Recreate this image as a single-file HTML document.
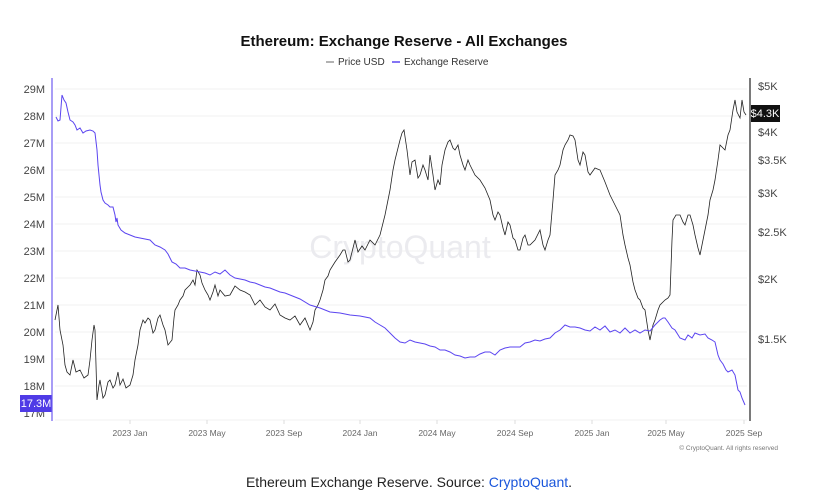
<!DOCTYPE html>
<html><head><meta charset="utf-8"><style>
body{margin:0;background:#fff;width:819px;height:498px;overflow:hidden;font-family:"Liberation Sans",sans-serif}
</style></head><body>
<svg width="819" height="498" xmlns="http://www.w3.org/2000/svg" font-family="Liberation Sans, sans-serif">
<text x="404" y="46" text-anchor="middle" font-size="15" font-weight="bold" fill="#111">Ethereum: Exchange Reserve - All Exchanges</text>
<line x1="326" y1="62" x2="334" y2="62" stroke="#999" stroke-width="1.5"/>
<text x="338" y="65" font-size="10" fill="#333">Price USD</text>
<line x1="392" y1="62" x2="400" y2="62" stroke="#5b45f0" stroke-width="1.5"/>
<text x="404" y="65" font-size="10" fill="#333">Exchange Reserve</text>
<g stroke="#f0f0f0" stroke-width="1">
<line x1="55" y1="89" x2="747" y2="89"/><line x1="55" y1="116" x2="747" y2="116"/><line x1="55" y1="143" x2="747" y2="143"/><line x1="55" y1="170" x2="747" y2="170"/><line x1="55" y1="197" x2="747" y2="197"/><line x1="55" y1="224" x2="747" y2="224"/><line x1="55" y1="251" x2="747" y2="251"/><line x1="55" y1="278" x2="747" y2="278"/><line x1="55" y1="305" x2="747" y2="305"/><line x1="55" y1="332" x2="747" y2="332"/><line x1="55" y1="359" x2="747" y2="359"/><line x1="55" y1="386" x2="747" y2="386"/>
<line x1="55" y1="420" x2="747" y2="420"/>
</g>
<text x="400" y="258" text-anchor="middle" font-size="32" fill="#ebebef">CryptoQuant</text>
<g font-size="11" fill="#444" text-anchor="end">
<text x="45" y="93">29M</text><text x="45" y="120">28M</text><text x="45" y="147">27M</text><text x="45" y="174">26M</text><text x="45" y="201">25M</text><text x="45" y="228">24M</text><text x="45" y="255">23M</text><text x="45" y="282">22M</text><text x="45" y="309">21M</text><text x="45" y="336">20M</text><text x="45" y="363">19M</text><text x="45" y="390">18M</text><text x="45" y="417">17M</text>
</g>
<rect x="20" y="395" width="32" height="17" fill="#4f3be6"/>
<text x="36" y="407" text-anchor="middle" font-size="11" fill="#fff">17.3M</text>
<line x1="52" y1="78" x2="52" y2="421" stroke="#6f5cf0" stroke-width="1.2"/>
<line x1="750" y1="78" x2="750" y2="421" stroke="#222" stroke-width="1.2"/>
<g font-size="11" fill="#444">
<text x="758" y="90">$5K</text><text x="758" y="136">$4K</text><text x="758" y="164">$3.5K</text><text x="758" y="197">$3K</text><text x="758" y="236">$2.5K</text><text x="758" y="283">$2K</text><text x="758" y="343">$1.5K</text>
</g>
<rect x="751" y="105" width="29" height="17" fill="#111"/>
<text x="765" y="117" text-anchor="middle" font-size="11" fill="#fff">$4.3K</text>
<g stroke="#ddd"><line x1="130" y1="420" x2="130" y2="424"/><line x1="207" y1="420" x2="207" y2="424"/><line x1="284" y1="420" x2="284" y2="424"/><line x1="360" y1="420" x2="360" y2="424"/><line x1="437" y1="420" x2="437" y2="424"/><line x1="515" y1="420" x2="515" y2="424"/><line x1="592" y1="420" x2="592" y2="424"/><line x1="666" y1="420" x2="666" y2="424"/><line x1="744" y1="420" x2="744" y2="424"/></g>
<g font-size="8.5" fill="#666" text-anchor="middle">
<text x="130" y="436">2023 Jan</text><text x="207" y="436">2023 May</text><text x="284" y="436">2023 Sep</text><text x="360" y="436">2024 Jan</text><text x="437" y="436">2024 May</text><text x="515" y="436">2024 Sep</text><text x="592" y="436">2025 Jan</text><text x="666" y="436">2025 May</text><text x="744" y="436">2025 Sep</text>
</g>
<text x="778" y="450" text-anchor="end" font-size="6.5" fill="#777">© CryptoQuant. All rights reserved</text>
<polyline fill="none" stroke="#222" stroke-width="0.8" points="55,320 58,305 60,330 63,345 65,365 67,372 70,375 73,360 76,372 80,370 84,378 88,375 90,360 92,340 94,325 95,330 97,400 99,385 100,380 103,398 105,395 108,382 110,380 113,388 115,385 118,372 120,385 123,379 126,388 130,385 133,375 135,360 138,345 140,330 143,320 145,323 148,318 150,320 153,333 155,330 158,318 160,315 163,325 165,330 168,345 172,340 174,318 175,310 178,305 180,300 183,296 185,290 188,287 190,285 193,280 195,285 197,270 200,275 202,283 205,290 208,295 210,300 213,292 215,285 218,296 220,290 225,296 230,295 235,286 240,290 245,292 250,295 255,305 260,300 265,307 270,310 275,304 280,315 285,318 290,320 295,316 300,325 305,318 310,330 313,322 315,310 318,305 320,300 323,290 325,280 328,276 330,270 335,262 340,255 343,250 345,250 348,262 350,260 353,248 355,240 358,252 362,246 365,250 370,240 375,245 380,235 385,215 388,200 390,190 393,170 395,160 398,148 400,140 402,133 404,130 407,150 410,175 412,162 415,160 418,178 420,175 423,165 425,170 428,180 430,155 433,175 435,190 438,180 440,185 442,165 445,150 448,142 450,140 453,148 455,150 458,145 460,155 463,165 465,170 468,160 470,165 475,175 480,180 485,188 490,200 493,215 495,220 498,212 500,215 503,228 505,235 508,222 510,225 513,238 515,240 518,250 520,250 523,238 525,235 528,245 530,245 535,240 540,230 543,245 545,250 548,240 550,235 553,200 555,175 558,170 560,165 563,150 565,145 568,140 570,135 573,136 575,140 578,160 580,165 583,152 585,155 588,172 590,175 595,168 600,170 605,182 610,195 615,205 620,215 623,235 625,245 628,258 630,265 633,282 635,290 638,298 640,300 643,308 645,310 648,330 650,340 653,325 655,320 658,310 660,305 663,302 665,300 668,298 670,295 672,240 673,220 676,215 680,215 683,222 685,225 688,215 690,215 693,225 695,235 698,248 700,255 703,240 705,230 708,215 710,200 713,190 715,180 718,160 720,145 723,148 725,150 728,135 730,130 733,110 735,100 737,112 740,118 742,100 744,112 746,115"/>
<polyline fill="none" stroke="#5b45f0" stroke-width="1" points="56,117 58,121 60,120 62,95 64,100 66,103 68,112 70,120 73,122 75,125 77,130 80,128 83,133 86,131 90,130 93,131 95,133 97,150 98,165 100,185 101,192 103,200 105,203 108,205 110,207 113,207 115,215 116,222 117,218 118,225 121,230 125,233 130,235 135,237 140,238 145,239 150,240 153,243 155,245 160,247 165,250 168,254 172,262 176,264 180,268 185,268 190,270 195,271 200,272 205,273 210,275 215,272 220,274 225,270 230,275 235,278 240,279 245,280 250,282 255,283 260,285 265,287 270,288 275,290 280,292 285,293 290,295 300,299 310,305 320,308 330,312 340,313 350,315 360,316 370,318 375,322 380,325 385,328 390,333 395,338 400,342 405,343 410,340 415,342 420,343 425,344 430,346 435,347 440,350 445,350 450,352 455,355 460,356 465,358 470,357 475,357 480,354 485,352 490,352 495,355 500,350 505,348 510,347 515,347 520,347 525,343 530,342 535,340 540,341 545,339 550,338 555,333 560,330 565,325 570,327 575,327 580,328 585,330 590,331 595,327 600,330 605,326 610,332 615,330 620,333 625,328 630,333 635,330 640,333 645,330 650,331 655,325 660,320 663,318 665,318 668,322 672,328 675,330 680,338 685,340 688,335 692,338 695,333 700,335 705,334 708,338 712,340 715,342 718,355 720,360 723,364 726,370 728,372 732,370 735,375 738,390 740,392 742,398 745,405"/>
<text x="409" y="487" text-anchor="middle" font-size="14" fill="#222">Ethereum Exchange Reserve. Source: <tspan fill="#1a56db">CryptoQuant</tspan>.</text>
</svg>
</body></html>
